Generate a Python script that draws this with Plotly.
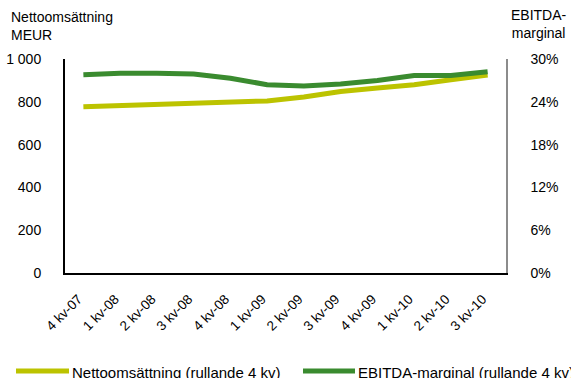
import plotly.graph_objects as go

# Quarterly data, rolling 4 quarters
quarters = ["4 kv-07", "1 kv-08", "2 kv-08", "3 kv-08", "4 kv-08", "1 kv-09",
            "2 kv-09", "3 kv-09", "4 kv-09", "1 kv-10", "2 kv-10", "3 kv-10"]
net_sales = [777, 782, 786, 790, 796, 804, 822, 848, 865, 880, 903, 925]          # MEUR
ebitda_margin = [27.8, 28.0, 28.0, 27.9, 27.3, 26.4, 26.2, 26.5, 27.0, 27.7, 27.7, 28.2]  # %

left_ticks = [0, 200, 400, 600, 800, 1000]
left_labels = ["0", "200", "400", "600", "800", "1 000"]
right_ticks = [0, 6, 12, 18, 24, 30]
right_labels = ["0%", "6%", "12%", "18%", "24%", "30%"]
series_names = ["Nettoomsättning (rullande 4 kv)", "EBITDA-marginal (rullande 4 kv)"]

YELLOW = "#BCC300"
GREEN = "#3A8B2F"
FONT = "Liberation Sans, Arial, sans-serif"

W, H = 571, 378
ML, MR, MT, MB = 65, 65, 59, 105
PW, PH = W - ML - MR, H - MT - MB


def px(x):
    """pixel x -> paper x"""
    return (x - ML) / PW


def py(y):
    """pixel y (from top) -> paper y"""
    return (H - MB - y) / PH


fig = go.Figure()
fig.add_trace(go.Scatter(
    x=quarters, y=net_sales, mode="lines", name=series_names[0],
    line=dict(color=YELLOW, width=5), yaxis="y"))
fig.add_trace(go.Scatter(
    x=quarters, y=ebitda_margin, mode="lines", name=series_names[1],
    line=dict(color=GREEN, width=5), yaxis="y2"))

# bottom legend drawn as line samples + labels
legend_items = [(16, 69, 72, YELLOW, series_names[0]),
                (303, 355, 358, GREEN, series_names[1])]
shapes, annotations = [], []
for x0, x1, xt, col, txt in legend_items:
    shapes.append(dict(type="line", xref="paper", yref="paper",
                       x0=px(x0), x1=px(x1), y0=py(371), y1=py(371),
                       line=dict(color=col, width=5)))
    annotations.append(dict(text=txt, xref="paper", yref="paper",
                            x=px(xt - 2), y=py(372), xanchor="left", yanchor="middle",
                            showarrow=False, font=dict(size=15)))

annotations += [
    dict(text="Nettoomsättning<br>MEUR", xref="paper", yref="paper",
         x=px(9), y=py(45), xanchor="left", yanchor="bottom",
         align="left", showarrow=False, font=dict(size=14)),
    dict(text="EBITDA-<br>marginal", xref="paper", yref="paper",
         x=px(539), y=py(43), xanchor="center", yanchor="bottom",
         align="center", showarrow=False, font=dict(size=14)),
]

fig.update_layout(
    width=W, height=H,
    margin=dict(l=ML, r=MR, t=MT, b=MB, autoexpand=False),
    paper_bgcolor="white", plot_bgcolor="white",
    font=dict(family=FONT, size=14, color="black"),
    showlegend=False,
    xaxis=dict(type="category", range=[-0.5, 11.5], showgrid=False, zeroline=False,
               showline=True, linecolor="black", linewidth=2,
               tickangle=-45, ticks="", tickfont=dict(size=13.5),
               ticklabelstandoff=11, ticklabelshift=-5),
    yaxis=dict(range=[0, 1000], tickvals=left_ticks, ticktext=left_labels,
               showgrid=False, zeroline=False, showline=True, linecolor="black",
               linewidth=2, ticks="", ticklabelstandoff=19),
    yaxis2=dict(range=[0, 30], tickvals=right_ticks, ticktext=right_labels,
                overlaying="y", side="right", showgrid=False, zeroline=False,
                showline=True, linecolor="#8C8C8C", linewidth=1.5, ticks="",
                ticklabelstandoff=20),
    shapes=shapes,
    annotations=annotations,
)

fig.write_html("out.html")
